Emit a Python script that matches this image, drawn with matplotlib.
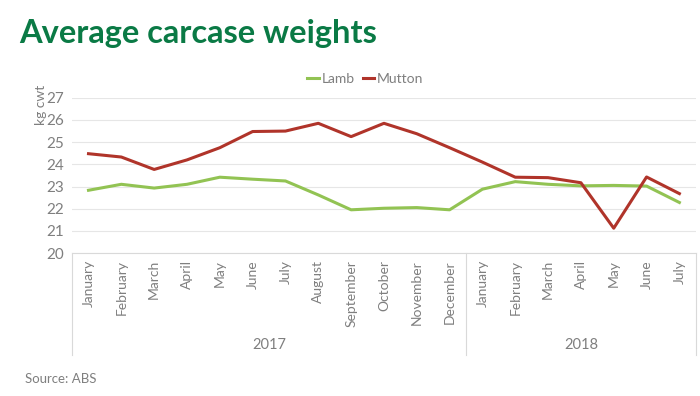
import matplotlib.pyplot as plt

months = ["January", "February", "March", "April", "May", "June", "July",
          "August", "September", "October", "November", "December",
          "January", "February", "March", "April", "May", "June", "July"]
years = ["2017", "2018"]
lamb = [22.83, 23.1, 22.93, 23.1, 23.42, 23.33, 23.25, 22.62, 21.95, 22.02,
        22.05, 21.95, 22.88, 23.22, 23.1, 23.03, 23.05, 23.02, 22.28]
mutton = [24.48, 24.33, 23.77, 24.2, 24.75, 25.48, 25.5, 25.85, 25.25, 25.85,
          25.38, 24.75, 24.1, 23.42, 23.4, 23.17, 21.12, 23.43, 22.68]

plt.rcParams["font.family"] = ["Lato", "DejaVu Sans"]
grey = "#7f7f7f"

fig = plt.figure(figsize=(7, 3.96), dpi=100)
ax = fig.add_axes([0.103, 0.361, 0.891, 0.392])

x = list(range(len(months)))
ax.plot(x, lamb, color="#92c353", lw=2.2, label="Lamb")
ax.plot(x, mutton, color="#b0342a", lw=2.2, label="Mutton")

ax.set_xlim(-0.5, len(months) - 0.5)
ax.set_ylim(20, 27)
ax.set_yticks(range(20, 28))
ax.grid(axis="y", color="#e6e6e6", lw=0.8)
ax.set_axisbelow(True)
for s in ["top", "right", "left"]:
    ax.spines[s].set_visible(False)
ax.spines["bottom"].set_color("#d9d9d9")
ax.tick_params(axis="y", length=0, labelsize=11, colors=grey, pad=6)
ax.set_xticks(x)
ax.set_xticklabels(months, rotation=90, fontsize=10, color=grey)
ax.tick_params(axis="x", length=0, pad=5)

# year groups
tr = ax.get_xaxis_transform()
for xb in [-0.5, 11.5, 18.5]:
    ax.plot([xb, xb], [0, -0.66], transform=tr, color="#d9d9d9", lw=0.8, clip_on=False)
ax.text(5.5, -0.59, years[0], transform=tr, ha="center", va="center", fontsize=10.5, color=grey)
ax.text(15, -0.59, years[1], transform=tr, ha="center", va="center", fontsize=10.5, color=grey)

fig.text(0.058, 0.735, "kg cwt", rotation=90, ha="center", va="center", fontsize=10, color=grey)

ax.legend(loc="lower center", bbox_to_anchor=(0.47, 1.0), ncol=2, frameon=False,
          fontsize=10, labelcolor=grey, handlelength=0.8, handletextpad=0.2,
          columnspacing=0.6)

fig.text(0.028, 0.915, "Average carcase weights", fontsize=23.5, fontweight="bold",
         color="#0a7a45", va="center")
fig.text(0.035, 0.043, "Source: ABS", fontsize=9.5, color=grey, va="center")

fig.savefig("out.png", dpi=100, facecolor="white")
